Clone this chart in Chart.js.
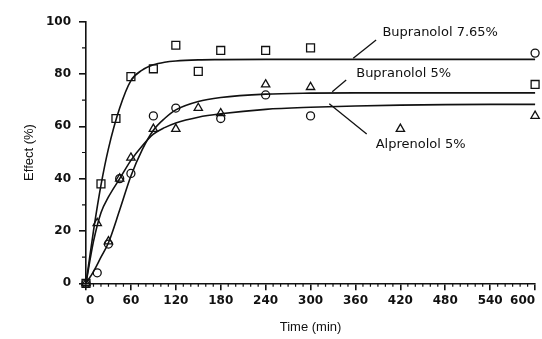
<!DOCTYPE html>
<html>
<head>
<meta charset="utf-8">
<script src="https://cdn.jsdelivr.net/npm/chart.js@4/dist/chart.umd.min.js"></script>
<style>
  html, body { margin: 0; padding: 0; background: #fff; }
  #wrap { width: 542px; height: 339px; }
</style>
</head>
<body>
<div id="wrap"><canvas id="chart"></canvas></div>
<script>
// Measured points (time in min, effect in %)
const timesSq = [0, 20, 40, 60, 90, 120, 150, 180, 240, 300, 600];
const bupr765 = [0, 38, 63, 79, 82, 91, 81, 89, 89, 90, 76];

const timesCirc = [0, 15, 30, 45, 60, 90, 120, 180, 240, 300, 600];
const bupr5 = [0, 4, 15, 40, 42, 64, 67, 63, 72, 64, 88];

const timesTri = [0, 15, 30, 45, 60, 90, 120, 150, 180, 240, 300, 420, 600];
const alpr5 = [0, 23, 16, 40, 48, 59, 59, 67, 65, 76, 75, 59, 64];

// Fitted curves
const fitTimes  = [0, 10, 20, 30, 45, 60, 75, 90, 105, 120, 150, 180, 240, 300, 360, 420, 480, 540, 600];
const fit765    = [0, 20, 37.5, 51.5, 67, 77.5, 81.5, 83.5, 84.5, 85, 85.4, 85.5, 85.6, 85.6, 85.6, 85.6, 85.6, 85.6, 85.6];
const fitBupr5  = [0, 4.5, 10, 15.5, 28, 41, 51, 58.5, 63, 66.3, 69.5, 71, 72.3, 72.7, 72.8, 72.8, 72.8, 72.8, 72.8];
const fitAlpr5  = [0, 16, 27, 33, 40, 47, 52.5, 57, 59.5, 61.3, 63.5, 64.8, 66.5, 67.3, 67.8, 68.1, 68.3, 68.4, 68.4];

const xTicks = [0, 60, 120, 180, 240, 300, 360, 420, 480, 540, 600];
const yTicks = [0, 20, 40, 60, 80, 100];

const INK = '#111';

// curve labels with their leader lines, in data units
const curveLabels = [
  { text: 'Bupranolol 7.65%', at: [396, 95.7], from: [387.6, 93.0], to: [357, 86.0] },
  { text: 'Bupranolol 5%',    at: [361, 80.3], from: [347.6, 77.7], to: [329, 73.2] },
  { text: 'Alprenolol 5%',    at: [387, 53.2], from: [325, 68.6],  to: [375, 57.1] },
];

const pairs = (xs, ys) => xs.map((x, i) => ({ x: x, y: ys[i] }));

function curve(ys) {
  return {
    type: 'line',
    data: pairs(fitTimes, ys),
    borderColor: INK,
    borderWidth: 1.6,
    pointRadius: 0,
    fill: false,
    cubicInterpolationMode: 'monotone',
    clip: false,
  };
}

function marks(xs, ys, style, radius) {
  return {
    type: 'scatter',
    data: pairs(xs, ys),
    pointStyle: style,
    pointRadius: radius,
    borderColor: INK,
    borderWidth: 1.3,
    backgroundColor: 'rgba(0,0,0,0)',
    clip: false,
  };
}

// minor ticks + curve labels
const extras = {
  id: 'extras',
  afterDraw(chart) {
    const ctx = chart.ctx;
    const xs = chart.scales.x, ys = chart.scales.y;
    const area = chart.chartArea;
    ctx.save();
    ctx.strokeStyle = INK;
    ctx.lineWidth = 1.2;
    ctx.beginPath();
    for (let t = 10; t < 600; t += 10) {
      if (t % 60 === 0) continue;
      const px = xs.getPixelForValue(t);
      ctx.moveTo(px, area.bottom);
      ctx.lineTo(px, area.bottom + 3.5);
    }
    for (let v = 10; v < 100; v += 20) {
      const py = ys.getPixelForValue(v);
      ctx.moveTo(area.left, py);
      ctx.lineTo(area.left - 4, py);
    }
    ctx.stroke();

    ctx.lineWidth = 1.3;
    ctx.fillStyle = INK;
    ctx.font = '13px "DejaVu Sans"';
    ctx.textBaseline = 'middle';
    ctx.textAlign = 'left';
    curveLabels.forEach(l => {
      ctx.beginPath();
      ctx.moveTo(xs.getPixelForValue(l.from[0]), ys.getPixelForValue(l.from[1]));
      ctx.lineTo(xs.getPixelForValue(l.to[0]), ys.getPixelForValue(l.to[1]));
      ctx.stroke();
      ctx.fillText(l.text, xs.getPixelForValue(l.at[0]), ys.getPixelForValue(l.at[1]));
    });
    ctx.restore();
  }
};

const tickFont = { family: 'DejaVu Sans', size: 12, weight: 'bold' };
const titleFont = { family: 'Liberation Sans', size: 13 };

new Chart(document.getElementById('chart'), {
  type: 'scatter',
  data: {
    datasets: [
      curve(fit765),
      curve(fitBupr5),
      curve(fitAlpr5),
      marks(timesSq, bupr765, 'rect', 5.6),
      marks(timesCirc, bupr5, 'circle', 4),
      marks(timesTri, alpr5, 'triangle', 4.8),
    ]
  },
  options: {
    responsive: true,
    maintainAspectRatio: false,
    animation: false,
    layout: { padding: { left: 0, right: 6, top: 21.7, bottom: 0 } },
    plugins: { legend: { display: false }, tooltip: { enabled: false } },
    scales: {
      x: {
        type: 'linear',
        min: 0, max: 600,
        afterBuildTicks: s => { s.ticks = xTicks.map(v => ({ value: v })); },
        border: { display: true, color: INK, width: 1.6 },
        grid: { drawOnChartArea: false, drawTicks: true, tickLength: 7, color: INK, lineWidth: 1.6 },
        ticks: { color: INK, font: tickFont, padding: 3, maxRotation: 0, autoSkip: false, align: 'inner' },
        title: { display: true, text: 'Time (min)', color: INK, font: titleFont, padding: { top: 0, bottom: 4 } },
        afterFit: s => { s.height = 55.7; s.paddingLeft = 0; s.paddingRight = 0; },
      },
      y: {
        type: 'linear',
        min: 0, max: 100,
        afterBuildTicks: s => { s.ticks = yTicks.map(v => ({ value: v })); },
        border: { display: true, color: INK, width: 1.6 },
        grid: { drawOnChartArea: false, drawTicks: true, tickLength: 7, color: INK, lineWidth: 1.6 },
        ticks: { color: INK, font: tickFont, padding: 8 },
        title: { display: true, text: 'Effect (%)', color: INK, font: titleFont, padding: { top: 22, bottom: 0 } },
        afterFit: s => { s.width = 86; s.paddingTop = 0; s.paddingBottom = 0; },
      }
    }
  },
  plugins: [extras]
});
</script>
</body>
</html>
